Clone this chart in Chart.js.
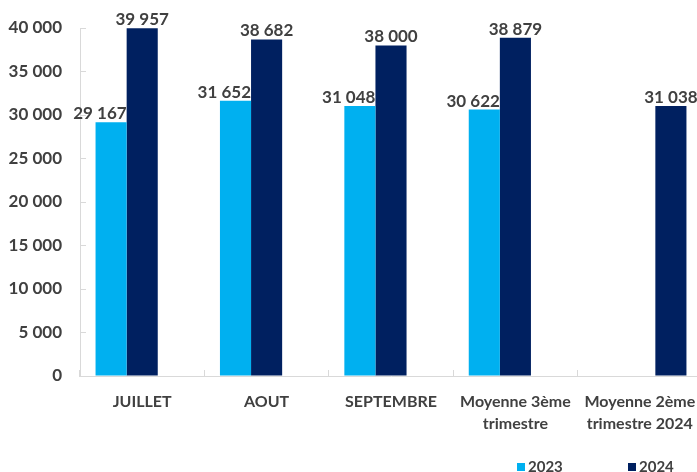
<!DOCTYPE html>
<html>
<head>
<meta charset="utf-8">
<script src="https://cdn.jsdelivr.net/npm/chart.js@4"></script>
<style>
  html, body { margin: 0; padding: 0; background: #fff; overflow: hidden; }
  #wrap { position: relative; width: 702px; height: 472px; }
  #legend { position: absolute; left: 517px; top: 457px; font: bold 15px Lato; color: #404040; white-space: nowrap; }
  #legend span { display: inline-block; }
  #legend i { display: inline-block; width: 8px; height: 8px; margin-right: 3px; vertical-align: 1px; }
  #legend .item { width: 111px; }
</style>
</head>
<body>
<div id="wrap">
  <canvas id="myChart" width="702" height="472"></canvas>
  <div id="legend"></div>
</div>
<script>
// Data
const categories = [
  "JUILLET",
  "AOUT",
  "SEPTEMBRE",
  ["Moyenne 3ème", "trimestre"],
  ["Moyenne 2ème", "trimestre 2024"]
];
const values2023 = [29167, 31652, 31048, 30622, null];
const values2024 = [39957, 38682, 38000, 38879, null];
const valuesT2 = [null, null, null, null, 31038];
const yTicks = [0, 5000, 10000, 15000, 20000, 25000, 30000, 35000, 40000];

const textColor = "#404040";
const axisColor = "#d9d9d9";

function fmt(v) {
  return String(v).replace(/\B(?=(\d{3})+(?!\d))/g, " ");
}

// draws the value above each bar
const barLabels = {
  id: "barLabels",
  afterDatasetsDraw(chart) {
    const ctx = chart.ctx;
    ctx.save();
    ctx.font = "bold 17px Lato";
    ctx.fillStyle = textColor;
    ctx.textBaseline = "alphabetic";
    chart.data.datasets.forEach((ds, i) => {
      const meta = chart.getDatasetMeta(i);
      meta.data.forEach((bar, j) => {
        const v = ds.data[j];
        if (v === null) return;
        if (ds.labelAlign === "right") {
          ctx.textAlign = "right";
          ctx.fillText(fmt(v), bar.x + bar.width / 2, bar.y - 3);
        } else {
          ctx.textAlign = "center";
          ctx.fillText(fmt(v), bar.x, bar.y - 3);
        }
      });
    });
    ctx.restore();
  }
};

Chart.defaults.font.family = "Lato";
Chart.defaults.font.weight = "bold";
Chart.defaults.color = textColor;

var config = {
  type: "bar",
  data: {
    labels: categories,
    datasets: [{
      label: "2023",
      data: values2023,
      backgroundColor: "#00b0f0",
      labelAlign: "right"
    }, {
      label: "2024",
      data: values2024,
      backgroundColor: "#002060",
      labelAlign: "center"
    }, {
      label: "Moyenne 2ème trimestre 2024",
      data: valuesT2,
      backgroundColor: "#002060",
      labelAlign: "center"
    }]
  },
  options: {
    responsive: false,
    animation: false,
    categoryPercentage: 0.75,
    barPercentage: 1.0,
    layout: { padding: { top: 28, left: 0, right: 0, bottom: 0 } },
    plugins: {
      tooltip: { enabled: false },
      legend: { display: false }
    },
    scales: {
      x: {
        grid: { drawOnChartArea: false, tickLength: -6, color: axisColor },
        border: { color: axisColor },
        ticks: { font: { size: 16, weight: "bold", lineHeight: 1.375 }, padding: 21, color: textColor },
        afterFit(s) {
          s.height = 96;
          s.paddingLeft = 0;
          s.paddingRight = 0;
        }
      },
      y: {
        min: 0,
        max: 40000,
        grid: { drawOnChartArea: false, tickLength: -6, color: axisColor },
        border: { color: axisColor },
        afterBuildTicks(s) { s.ticks = yTicks.map(v => ({ value: v })); },
        ticks: {
          font: { size: 17, weight: "bold" },
          padding: 24,
          color: textColor,
          callback: v => fmt(v)
        },
        afterFit(s) {
          s.width = 80;
          s.paddingTop = 0;
          s.paddingBottom = 0;
        }
      }
    }
  },
  plugins: [barLabels]
};

var myChart = new Chart(document.getElementById("myChart"), config);

// legend for the two yearly series
const legendEl = document.getElementById("legend");
config.data.datasets.slice(0, 2).forEach(ds => {
  const item = document.createElement("span");
  item.className = "item";
  const box = document.createElement("i");
  box.style.background = ds.backgroundColor;
  item.appendChild(box);
  item.appendChild(document.createTextNode(ds.label));
  legendEl.appendChild(item);
});
</script>
</body>
</html>
